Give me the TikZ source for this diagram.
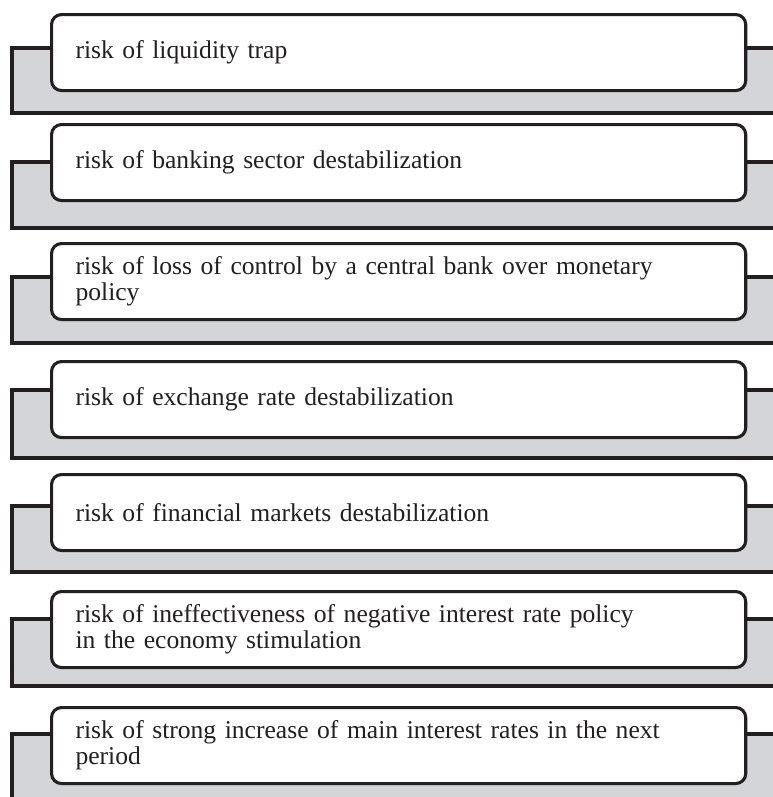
\documentclass[tikz,border=0pt]{standalone}
\usepackage{fontspec}
\setmainfont{Liberation Serif}
\usepackage{tikz}
\usetikzlibrary{positioning}
\definecolor{tabgray}{RGB}{212,213,216}
\definecolor{inkblack}{RGB}{35,31,32}

\begin{document}
\begin{tikzpicture}[x=0.025cm,y=-0.025cm,
	tab/.style={draw=inkblack, fill=tabgray, line width=2.2pt},
	risk/.style={draw=inkblack, fill=white, line width=2.2pt, rounded corners=0.25cm,
		anchor=north west, minimum width=17.35cm, minimum height=1.9cm,
		inner xsep=0.6cm, text width=16.15cm, align=left, text=inkblack,
		font=\fontsize{18.2}{18.6}\selectfont}]
	%\draw [help lines] (0,0) grid (773,797);
	\clip (0,0) rectangle (773,797);
	\draw [tab] (12,48) rectangle (800,113);
	\node [risk] (trap) at (50,13) {risk of liquidity trap};
	\draw [tab] (12,162) rectangle (800,228);
	\node [risk] (banking) at (50,123) {risk of banking sector destabilization};
	\draw [tab] (12,277) rectangle (800,343);
	\node [risk] (control) at (50,242) {risk of loss of control by a central bank over monetary\\policy};
	\draw [tab] (12,390) rectangle (800,458);
	\node [risk] (exchange) at (50,360) {risk of exchange rate destabilization};
	\draw [tab] (12,506) rectangle (800,572);
	\node [risk] (markets) at (50,473) {risk of financial markets destabilization};
	\draw [tab] (12,619) rectangle (800,686);
	\node [risk] (negative) at (50,590) {risk of ineffectiveness of negative interest rate policy\\in the economy stimulation};
	\draw [tab] (12,734) rectangle (800,820);
	\node [risk] (increase) at (50,706) {risk of strong increase of main interest rates in the next\\period};
\end{tikzpicture}
\end{document}
